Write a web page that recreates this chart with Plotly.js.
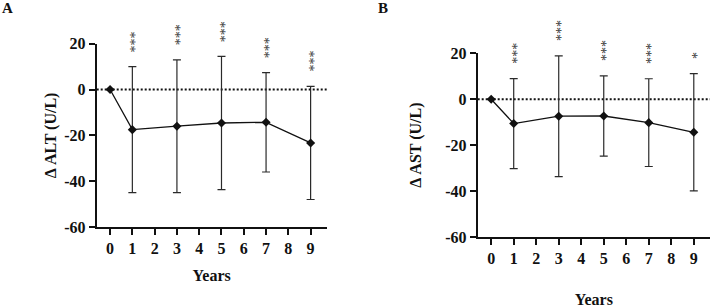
<!DOCTYPE html>
<html>
<head>
<meta charset="utf-8">
<script src="https://cdn.plot.ly/plotly-3.0.1.min.js"></script>
<style>
  html, body { margin: 0; padding: 0; background: #fff; }
  #chart { width: 710px; height: 308px; }
</style>
</head>
<body>
<div id="chart"></div>
<script>
// Follow-up years and change from baseline (mean ± SD)
const years = [0, 1, 3, 5, 7, 9];
const altMean = [0, -17.5, -16.0, -14.6, -14.3, -23.3];
const altSD = [0, 27.5, 29.0, 29.1, 21.7, 24.7];
const altSig = ['', '***', '***', '***', '***', '***'];
const astMean = [0, -10.6, -7.4, -7.3, -10.2, -14.4];
const astSD = [0, 19.6, 26.3, 17.5, 19.1, 25.5];
const astSig = ['', '***', '***', '***', '***', '*'];
const xTickVals = [0, 1, 2, 3, 4, 5, 6, 7, 8, 9];
const xTickText = ['0', '1', '2', '3', '4', '5', '6', '7', '8', '9'];
const yTickVals = [20, 0, -20, -40, -60];
const yTickText = ['20', '0', '-20', '-40', '-60'];

const FONT = 'Liberation Serif';
const INK = '#111';

function series(mean, sd, xa, ya) {
  return {
    type: 'scatter', mode: 'lines+markers',
    x: years, y: mean, xaxis: xa, yaxis: ya,
    line: { color: INK, width: 1.3 },
    marker: { symbol: 'diamond', size: 7, color: INK },
    error_y: { type: 'data', array: sd, visible: true, color: '#2a2a2a', thickness: 1.2, width: 4 },
    cliponaxis: false, showlegend: false, hoverinfo: 'skip'
  };
}

function xAxis(domain, anchor, standoff) {
  return {
    domain: domain, anchor: anchor, range: [-0.6, 9.72],
    tickmode: 'array', tickvals: xTickVals, ticktext: xTickText,
    ticks: 'outside', ticklen: 6, tickwidth: 2, tickcolor: INK,
    showline: true, linewidth: 2, linecolor: INK,
    showgrid: false, zeroline: false, automargin: false,
    tickfont: { family: FONT, size: 16, color: INK, weight: 'bold' },
    title: { text: 'Years', standoff: standoff, font: { family: FONT, size: 16, color: INK, weight: 'bold' } }
  };
}

function yAxis(domain, anchor, label, standoff) {
  return {
    domain: domain, anchor: anchor, range: [-60, 20],
    tickmode: 'array', tickvals: yTickVals, ticktext: yTickText,
    ticks: 'outside', ticklen: 6, tickwidth: 2, tickcolor: INK,
    showline: true, linewidth: 2, linecolor: INK,
    showgrid: false, zeroline: false, automargin: false,
    tickfont: { family: FONT, size: 16, color: INK, weight: 'bold' },
    title: { text: label, standoff: standoff, font: { family: FONT, size: 16, color: INK, weight: 'bold' } }
  };
}

// Significance asterisks, turned upright so they stack above each error bar
function starNotes(mean, sd, sig, xa, ya) {
  const notes = [];
  for (let i = 0; i < years.length; i++) {
    if (!sig[i]) continue;
    const n = sig[i].length;
    notes.push({
      x: years[i], y: mean[i] + sd[i], xref: xa, yref: ya,
      text: sig[i], textangle: -90, showarrow: false,
      xanchor: 'center', yanchor: 'middle',
      yshift: 18 + (n - 1) * 3.5, xshift: 3.5,
      font: { family: FONT, size: 14, color: '#333' }
    });
  }
  return notes;
}

const data = [
  series(altMean, altSD, 'x', 'y'),
  series(astMean, astSD, 'x2', 'y2')
];

const layout = {
  width: 710, height: 308,
  margin: { l: 0, r: 0, t: 0, b: 0 },
  paper_bgcolor: '#fff', plot_bgcolor: 'rgba(0,0,0,0)',
  xaxis: xAxis([0.1362, 0.4601], 'y', 14),
  yaxis: yAxis([0.263, 0.858], 'x', 'Δ ALT (U/L)', 4),
  xaxis2: xAxis([0.6728, 1.0], 'y2', 44),
  yaxis2: yAxis([0.2305, 0.827], 'x2', 'Δ AST (U/L)', 20),
  shapes: [
    { type: 'line', xref: 'x domain', yref: 'y', x0: 0, x1: 1, y0: 0, y1: 0,
      line: { color: INK, width: 2, dash: '2px,2px' }, layer: 'below' },
    { type: 'line', xref: 'x2 domain', yref: 'y2', x0: 0, x1: 1, y0: 0, y1: 0,
      line: { color: INK, width: 2, dash: '2px,2px' }, layer: 'below' }
  ],
  annotations: [
    { text: 'A', xref: 'paper', yref: 'paper', x: 7.5 / 710, y: 1 - 8.3 / 308,
      xanchor: 'center', yanchor: 'middle', showarrow: false,
      font: { family: FONT, size: 15, color: INK, weight: 'bold' } },
    { text: 'B', xref: 'paper', yref: 'paper', x: 383 / 710, y: 1 - 7.7 / 308,
      xanchor: 'center', yanchor: 'middle', showarrow: false,
      font: { family: FONT, size: 15, color: INK, weight: 'bold' } }
  ].concat(starNotes(altMean, altSD, altSig, 'x', 'y'))
   .concat(starNotes(astMean, astSD, astSig, 'x2', 'y2'))
};

Plotly.newPlot('chart', data, layout, { staticPlot: true, displayModeBar: false });
</script>
</body>
</html>
